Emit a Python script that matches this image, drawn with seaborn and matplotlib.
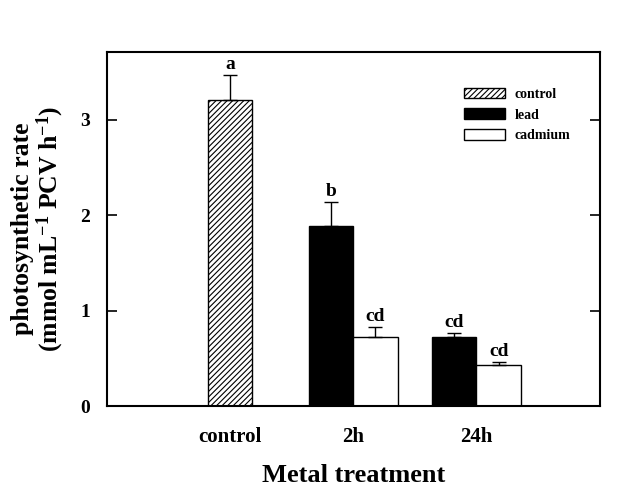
import pandas as pd
import matplotlib
matplotlib.use("Agg")
import matplotlib.pyplot as plt
import matplotlib.patches as mpatches
import seaborn as sns

# -----------------------------
# DATA
# -----------------------------
groups = ["control", "2h", "24h"]
bar_group = ["control", "2h", "2h", "24h", "24h"]
bar_metal = ["control", "lead", "cadmium", "lead", "cadmium"]
rate = [3.21, 1.89, 0.73, 0.73, 0.43]
rate_err = [0.26, 0.25, 0.10, 0.04, 0.03]
letters = ["a", "b", "cd", "cd", "cd"]

bar_w = 0.36
offset = {"control": 0.0, "lead": -bar_w / 2, "cadmium": bar_w / 2}

df = pd.DataFrame({"group": bar_group, "metal": bar_metal,
                   "rate": rate, "err": rate_err, "letter": letters})
df["pos"] = [groups.index(g) + offset[m] for g, m in zip(df["group"], df["metal"])]

# -----------------------------
# STYLE
# -----------------------------
sns.set_style("white")
plt.rcParams["font.family"] = ["Liberation Serif", "DejaVu Serif"]
plt.rcParams["font.weight"] = "bold"
plt.rcParams["mathtext.default"] = "regular"
plt.rcParams["text.color"] = "black"
plt.rcParams["axes.labelcolor"] = "black"
plt.rcParams["xtick.color"] = "black"
plt.rcParams["ytick.color"] = "black"
plt.rcParams["hatch.linewidth"] = 0.8

fig = plt.figure(figsize=(6.28, 4.96), dpi=100)
ax = fig.add_axes([0.170, 0.181, 0.785, 0.714])

palette = {"control": "white", "lead": "black", "cadmium": "white"}
sns.barplot(data=df, x="pos", y="rate", hue="metal", palette=palette,
            native_scale=True, dodge=False, width=1.0, errorbar=None,
            edgecolor="black", linewidth=1.0, legend=False, ax=ax)

for p in ax.patches:
    # hatch the control bar
    if abs(p.get_x() + p.get_width() / 2) < 0.01 and p.get_height() > 0:
        p.set_hatch("//////")

# error bars (upper only)
ax.errorbar(df["pos"], df["rate"], yerr=[[0] * len(df), df["err"]],
            fmt="none", ecolor="black", elinewidth=1.0, capsize=5, capthick=1.0)

for x, y, e, t in zip(df["pos"], df["rate"], df["err"], df["letter"]):
    ax.text(x, y + e + 0.02, t, ha="center", va="bottom",
            fontsize=14, fontweight="bold")

ax.set_xlim(-1, 3)
ax.set_ylim(0, 3.71)
ax.set_xticks(range(len(groups)))
ax.set_xticklabels(groups, fontsize=15, fontweight="bold")
ax.set_yticks([0, 1, 2, 3])
ax.set_yticklabels(["0", "1", "2", "3"], fontsize=14, fontweight="bold")
ax.tick_params(axis="x", length=0, pad=15)
ax.tick_params(axis="y", direction="in", length=7, width=1.2, left=True,
               right=True, pad=12)

for s in ax.spines.values():
    s.set_visible(True)
    s.set_color("black")
    s.set_linewidth(1.5)

ax.set_xlabel("Metal treatment", fontsize=19, fontweight="bold", labelpad=12)
ax.set_ylabel("photosynthetic rate\n(mmol mL$^{-1}$ PCV h$^{-1}$)",
              fontsize=18.5, fontweight="bold", labelpad=10, linespacing=1.05)

handles = [
    mpatches.Patch(facecolor="white", edgecolor="black", hatch="//////", label="control"),
    mpatches.Patch(facecolor="black", edgecolor="black", label="lead"),
    mpatches.Patch(facecolor="white", edgecolor="black", label="cadmium"),
]
ax.legend(handles=handles, loc="upper left", bbox_to_anchor=(0.70, 0.935),
          frameon=False, handlelength=2.9, handleheight=0.8,
          labelspacing=0.55, handletextpad=0.7,
          prop={"weight": "bold", "size": 10})

plt.savefig("out.png", dpi=100)
plt.close()
